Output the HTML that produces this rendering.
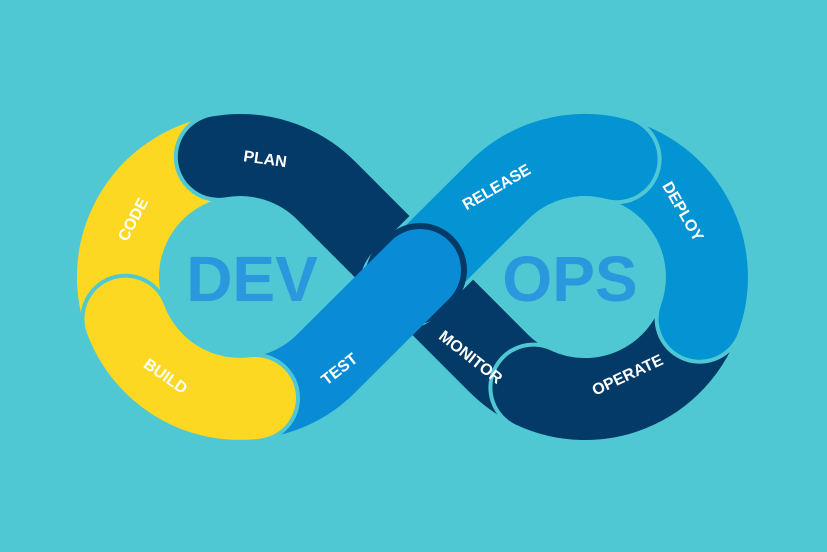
<!DOCTYPE html>
<html><head><meta charset="utf-8"><style>
html,body{margin:0;padding:0;background:#4fc8d3;}
svg{display:block}
text{font-family:"Liberation Sans",sans-serif;}
.l{fill:#fff;font-weight:bold;font-size:16px;text-anchor:middle;dominant-baseline:middle;}
.big{fill:#2b98de;font-size:64px;font-weight:bold;text-anchor:middle;}
</style></head><body>
<svg width="827" height="552" viewBox="0 0 827 552">
<rect width="827" height="552" fill="#4fc8d3"/>
<g fill="none" stroke-linecap="round">
<path d="M134.3 338 A122 122 0 0 1 229.4 155.5" stroke="#fdd823" stroke-width="82"/>
<path d="M218.8 156.9 A122 122 0 0 1 326.3 190.7 L498.7 363.3 A122 122 0 0 0 563.8 397.1" stroke="#4fc8d3" stroke-width="90"/>
<path d="M218.8 156.9 A122 122 0 0 1 326.3 190.7 L498.7 363.3 A122 122 0 0 0 563.8 397.1" stroke="#033a68" stroke-width="82"/>
<path d="M533.4 387.6 A122 122 0 0 0 702.8 308.6" stroke="#4fc8d3" stroke-width="90"/>
<path d="M533.4 387.6 A122 122 0 0 0 702.8 308.6" stroke="#033a68" stroke-width="82"/>
<path d="M606.2 156.9 A122 122 0 0 1 699.6 318.7" stroke="#4fc8d3" stroke-width="90"/>
<path d="M606.2 156.9 A122 122 0 0 1 699.6 318.7" stroke="#0494d3" stroke-width="82"/>
<path d="M405 284 L498.7 190.7 A122 122 0 0 1 616.6 159.2" stroke="#4fc8d3" stroke-width="90"/>
<path d="M405 284 L498.7 190.7 A122 122 0 0 1 616.6 159.2" stroke="#0494d3" stroke-width="82"/>
<path d="M412 278 L420 270" stroke="#033a68" stroke-width="94"/>
<path d="M229.4 398.5 A122 122 0 0 0 326.3 363.3 L420 270" stroke="#0a8bd6" stroke-width="82"/>
<path d="M125.4 318.7 A122 122 0 0 0 255 398" stroke="#4fc8d3" stroke-width="90"/>
<path d="M125.4 318.7 A122 122 0 0 0 255 398" stroke="#fdd823" stroke-width="82"/>
</g>
<text class="big" x="252" y="301">DEV</text>
<text class="big" x="570" y="301">OPS</text>
<text class="l" transform="translate(134,220) rotate(-62)">CODE</text>
<text class="l" transform="translate(265,160) rotate(8)">PLAN</text>
<text class="l" transform="translate(165,377) rotate(35)">BUILD</text>
<text class="l" transform="translate(340,370) rotate(-38)">TEST</text>
<text class="l" transform="translate(497,188) rotate(-30)">RELEASE</text>
<text class="l" transform="translate(682,212) rotate(60)">DEPLOY</text>
<text class="l" transform="translate(470,358) rotate(38)">MONITOR</text>
<text class="l" transform="translate(628,376) rotate(-25)">OPERATE</text>
</svg>
</body></html>
